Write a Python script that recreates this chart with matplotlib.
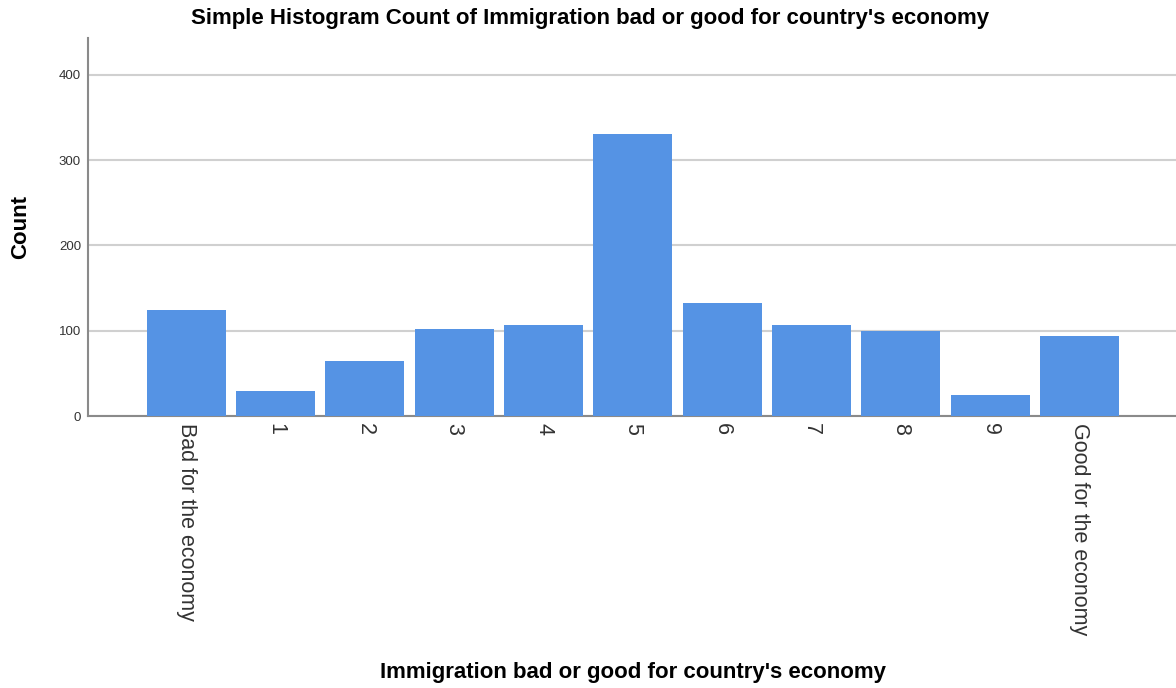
import matplotlib
matplotlib.use("Agg")
import matplotlib.pyplot as plt

# categories and counts
categories = ["Bad for the economy", "1", "2", "3", "4", "5", "6", "7", "8", "9",
              "Good for the economy"]
counts = [124, 29, 64, 102, 107, 331, 133, 107, 100, 25, 94]
yticks = [0, 100, 200, 300, 400]

plt.rcParams['font.family'] = ['Liberation Sans', 'DejaVu Sans']

fig = plt.figure(figsize=(11.76, 6.88), dpi=100)
ax = fig.add_axes([0.0748, 0.3953, 0.9252, 0.5494])

x = list(range(len(categories)))
ax.bar(x, counts, width=0.885, color='#5593e4', zorder=3)

# grid and axes styling
ax.set_ylim(0, 443)
ax.set_xlim(-1.1, 11.08)
ax.set_yticks(yticks)
ax.yaxis.grid(True, color='#d0d0d0', linewidth=1.5, zorder=0)
for side in ['top', 'right']:
    ax.spines[side].set_visible(False)
ax.spines['left'].set_color('#8a8a8a')
ax.spines['bottom'].set_color('#8a8a8a')
ax.spines['left'].set_linewidth(1.5)
ax.spines['bottom'].set_linewidth(1.5)
ax.tick_params(axis='y', length=0, labelsize=9.5, colors='#333333', pad=5)
ax.tick_params(axis='x', length=0, pad=5)

ax.set_xticks(x)
ax.set_xticklabels(categories, rotation=270, fontsize=15.5, color='#333333',
                   va='top', ha='center')

ax.set_ylabel('Count', fontsize=16, fontweight='bold', labelpad=20)
fig.text(0.538, 0.022, "Immigration bad or good for country's economy",
         ha='center', va='center', fontsize=16, fontweight='bold')
fig.text(0.502, 0.973, "Simple Histogram Count of Immigration bad or good for country's economy",
         ha='center', va='center', fontsize=16, fontweight='bold')

fig.savefig('out.png', dpi=100)
